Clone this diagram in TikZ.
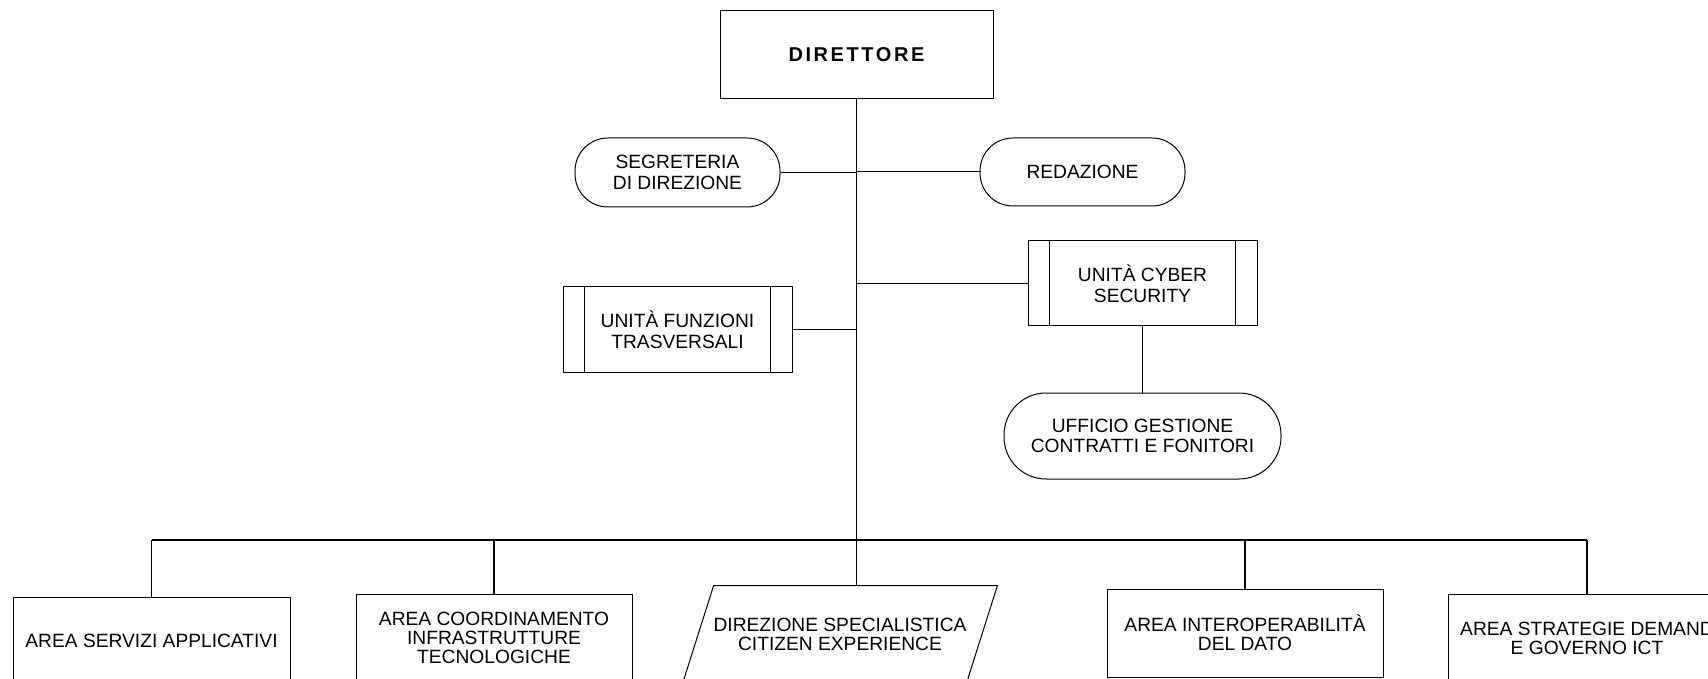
\documentclass[tikz,border=0pt]{standalone}
\usepackage{fontspec}
\setmainfont{Liberation Sans}
\newfontfamily\dirfont[LetterSpace=13]{Liberation Sans}
\begin{document}
\begin{tikzpicture}[x=0.5pt,y=-0.5pt,
  every node/.style={align=center, inner sep=0pt, font=\fontsize{9.6}{10.3}\selectfont},
  lowtxt/.style={font=\fontsize{9.6}{9.6}\selectfont},
  plainbox/.style={draw, line width=0.5pt, rectangle},
  stadium/.style={draw, line width=0.5pt, rectangle, rounded corners=16.5pt},
  bigstadium/.style={draw, line width=0.5pt, rectangle, rounded corners=21pt},
  barbox/.style={draw, line width=0.5pt, rectangle,
    path picture={
      \draw[line width=0.5pt] ([xshift=10.75pt]path picture bounding box.north west) -- ([xshift=10.75pt]path picture bounding box.south west);
      \draw[line width=0.5pt] ([xshift=-10.75pt]path picture bounding box.north east) -- ([xshift=-10.75pt]path picture bounding box.south east);
    }},
  link/.style={draw, line width=0.5pt},
  trunkline/.style={draw, line width=0.75pt}
]
\useasboundingbox (0,0) rectangle (1708,679);
\clip (0,0) rectangle (1708,679);

% top
\node[plainbox, minimum width=136.5pt, minimum height=44pt, font=\dirfont\bfseries\fontsize{10}{12}\selectfont] (dir) at (856.5,55) {DIRETTORE};
\node[stadium, minimum width=102.5pt, minimum height=34.5pt] (seg) at (677.5,172.5) {SEGRETERIA\\DI DIREZIONE};
\node[stadium, minimum width=102.5pt, minimum height=34pt] (red) at (1082.5,172) {REDAZIONE};
\node[barbox, minimum width=114.5pt, minimum height=42.5pt] (cyb) at (1142.5,283.5) {UNITÀ CYBER\\SECURITY};
\node[barbox, minimum width=114.5pt, minimum height=42.5pt] (fun) at (677.5,329.5) {UNITÀ FUNZIONI\\TRASVERSALI};
\node[bigstadium, minimum width=138.5pt, minimum height=43pt] (uff) at (1142.5,436) {UFFICIO GESTIONE\\CONTRATTI E FONITORI};

% bottom row
\node[plainbox, lowtxt, minimum width=138.5pt, minimum height=44pt] (ser) at (151.5,641) {AREA SERVIZI APPLICATIVI};
\node[plainbox, lowtxt, minimum width=138pt, minimum height=44pt] (coo) at (494,638) {AREA COORDINAMENTO\\INFRASTRUTTURE\\TECNOLOGICHE};
\node[lowtxt, minimum width=141.5pt, minimum height=48.5pt] (dse) at (840,634.5) {DIREZIONE SPECIALISTICA\\CITIZEN EXPERIENCE};
\node[plainbox, lowtxt, minimum width=138pt, minimum height=44pt] (int) at (1245,633) {AREA INTEROPERABILITÀ\\DEL DATO};
\node[plainbox, lowtxt, minimum width=138.5pt, minimum height=44pt] (str) at (1587,638) {AREA STRATEGIE DEMAND\\E GOVERNO ICT};

\draw[line width=0.5pt] ([xshift=7.75pt]dse.north west) -- ([xshift=7.75pt]dse.north east)
  -- ([xshift=-7.75pt]dse.south east) -- ([xshift=-7.75pt]dse.south west) -- cycle;

% connectors
\coordinate (bus) at (856.5,540);
\path[trunkline] (dir.south) -- (dir.south |- dse.north);
\path[link] (seg.east) -- (seg.east -| dir.south);
\path[link] (red.west) -- (red.west -| dir.south);
\path[link] (cyb.west) -- (cyb.west -| dir.south);
\path[link] (fun.east) -- (fun.east -| dir.south);
\path[trunkline] (cyb.south) -- (uff.north);
\path[trunkline] (ser.north |- bus) -- (str.north |- bus);
\path[trunkline] (ser.north |- bus) -- (ser.north);
\path[trunkline] (coo.north |- bus) -- (coo.north);
\path[trunkline] (int.north |- bus) -- (int.north);
\path[trunkline] (str.north |- bus) -- (str.north);
\end{tikzpicture}
\end{document}
